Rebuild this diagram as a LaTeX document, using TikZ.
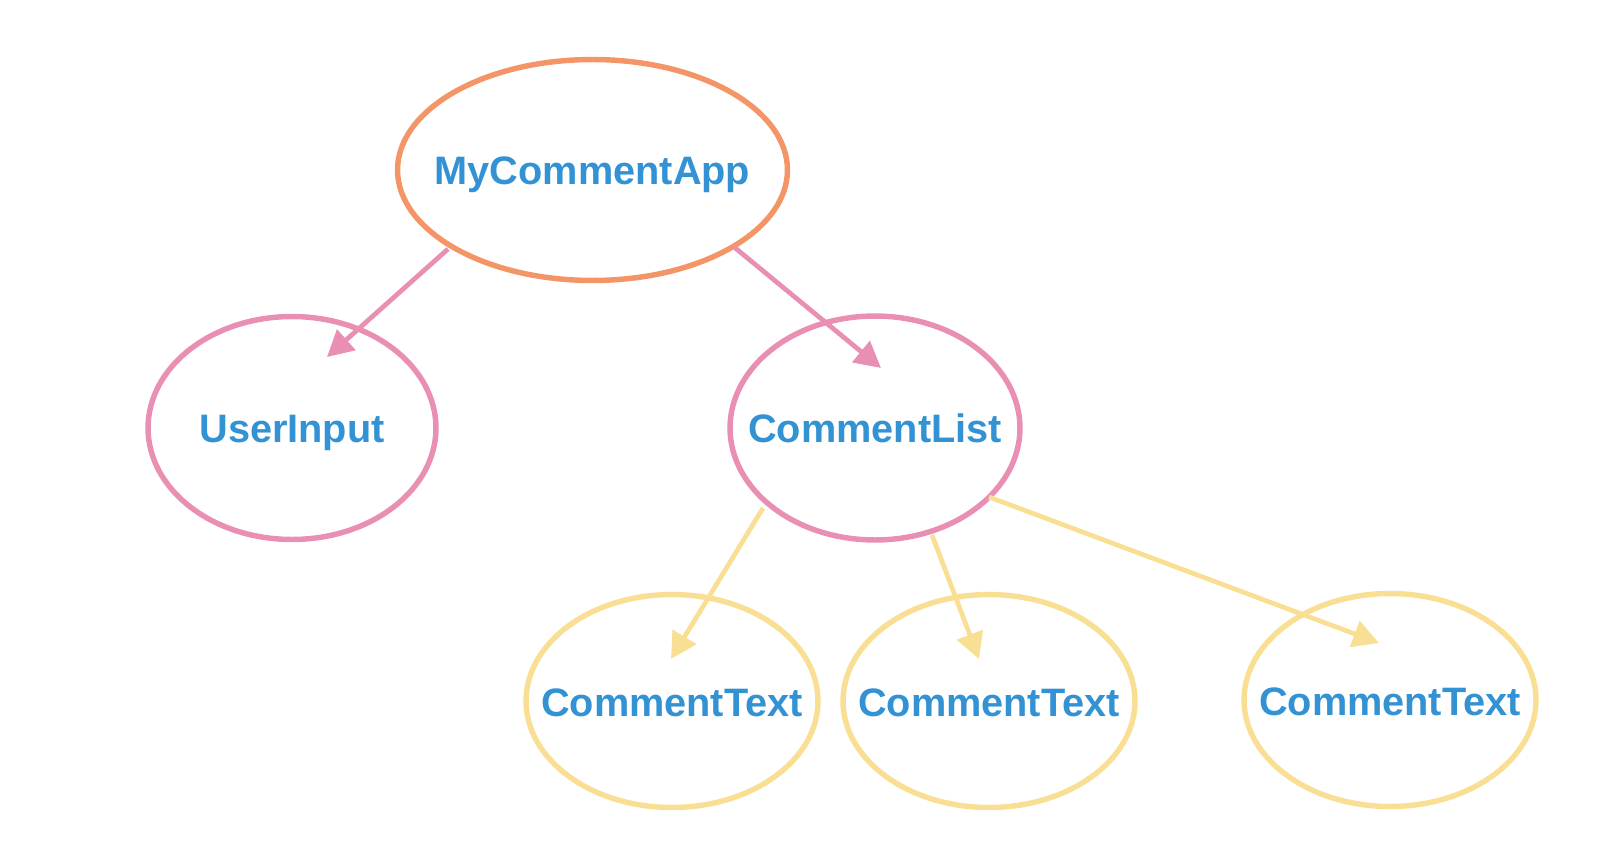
\documentclass[tikz,border=0pt]{standalone}
\usepackage{fontspec}
\setmainfont{Liberation Sans}
\usetikzlibrary{shapes.geometric,arrows.meta}
\definecolor{orangeE}{HTML}{F39566}
\definecolor{pinkE}{HTML}{E98FB4}
\definecolor{yellowE}{HTML}{F9DF94}
\definecolor{blueT}{HTML}{3392D3}
\newcommand{\ctext}[1]{\makebox[0pt][c]{#1}}
\tikzset{
  comp/.style={ellipse, draw, line width=3.1pt, inner sep=0pt, text=blueT,
    text height=0.6cm, text depth=0cm,
    font=\fontsize{22.6pt}{26pt}\selectfont\bfseries},
  appnode/.style={comp, draw=orangeE, minimum width=7.8cm, minimum height=4.42cm},
  listnode/.style={comp, draw=pinkE, minimum width=5.76cm, minimum height=4.46cm},
  textnode/.style={comp, draw=yellowE, minimum width=5.84cm, minimum height=4.26cm},
  link/.style={line width=2.7pt, -{Triangle[length=0.52cm,width=0.54cm]}},
}
\begin{document}
\begin{tikzpicture}[x=0.02cm,y=-0.02cm]
\useasboundingbox (0,0) rectangle (1622,868);
\node[appnode] (app) at (592.5,170) {\ctext{MyCommentApp}};
\node[listnode] (ui) at (292,428) {\ctext{UserInput}};
\node[listnode, minimum width=5.8cm, minimum height=4.48cm] (cl) at (875,428) {\ctext{CommentList}};
\node[textnode] (ct1) at (672,701) {\ctext{CommentText}};
\node[textnode] (ct2) at (989,701) {\ctext{CommentText}};
\node[textnode] (ct3) at (1390,700) {\ctext{CommentText}};
\coordinate (s1) at (448,249);
\coordinate (t1) at (327,357);
\coordinate (s2) at (734,247);
\coordinate (t2) at (881,368);
\coordinate (s3) at (763,508);
\coordinate (t3) at (671,659);
\coordinate (s4) at (932,535);
\coordinate (t4) at (979,659);
\coordinate (s5) at (989,497);
\coordinate (t5) at (1379,643);
\draw[link, pinkE] (s1) -- (t1);
\draw[link, pinkE] (s2) -- (t2);
\draw[link, yellowE] (s3) -- (t3);
\draw[link, yellowE] (s4) -- (t4);
\draw[link, yellowE] (s5) -- (t5);
\end{tikzpicture}
\end{document}
